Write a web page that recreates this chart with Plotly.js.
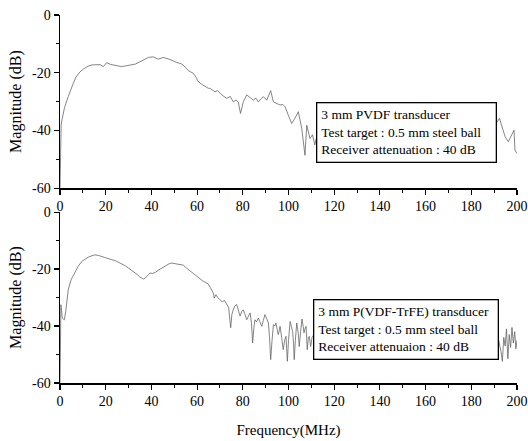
<!DOCTYPE html>
<html>
<head>
<meta charset="utf-8">
<script src="https://cdn.plot.ly/plotly-3.0.1.min.js"></script>
<style>html,body{margin:0;padding:0;background:#fff;}#chart{width:528px;height:441px;}</style>
</head>
<body>
<div id="chart"></div>
<script>
// ---- Data ----
var pvdfFreq = [0,0.5,1,2,3.6,5,5.8,7,8.75,10.5,12.4,14,16,17.5,19,20.4,22,23.3,25,27,29,31.4,33,35,37,38.7,40.8,43,45.2,46.5,48.1,50.3,52,53.3,55,56.2,58.3,59.5,60.5,62,64.9,65.6,67.8,69,70.8,72,73,74.5,75.8,77,78,79,80.2,81.7,83,84.6,85.7,86.8,88,89,90.5,92.2,93.4,95,96.3,97.5,98.5,99.9,101.4,102.8,104.3,105.8,107.2,108,109.4,110.5,111.5,113,116,119,122,125,128,131,134,137,140,143,146,149,152,155,158,161,164,167,170,173,176,179,182,185,188,190.5,192.3,193.3,194.8,196.2,197.7,198.7,199.1,200];
var pvdfMag = [-60,-38,-35.8,-32,-28.3,-25,-23.7,-21.5,-19.7,-18.6,-17.7,-17.3,-17.1,-17.2,-17.9,-16.5,-17.1,-17.3,-17.4,-17.9,-17.6,-17.3,-17.0,-16.2,-15.4,-14.7,-14.5,-15.3,-14.7,-15,-15.4,-16.2,-16.7,-17,-18.2,-19.3,-20.2,-21.5,-23.1,-24,-25.4,-25.4,-26.6,-26.2,-27.7,-28.4,-28.9,-28.2,-30.1,-29.5,-30.1,-34.1,-30.1,-27.7,-28.6,-29.5,-28.8,-30.1,-29,-28.3,-29.5,-26.2,-30.1,-30.6,-31.2,-31,-31.8,-34.7,-37.6,-35.8,-33.5,-39.3,-48.6,-38.2,-42.8,-41.5,-45,-40,-43,-41,-44,-42,-45,-43,-46,-44,-42,-45,-43,-46,-44,-42,-45,-43,-46,-44,-41,-44,-42,-45,-43,-40,-42,-38,-35.8,-38.2,-42.2,-43.9,-41.6,-39.9,-46.8,-48];

var trfeFreq = [0,0.2,0.4,1,1.9,2.5,2.9,3.6,4.8,6.6,8,9.5,11,12.4,14,15.3,16.8,18.2,19.6,21.1,22.6,24.1,25.5,27,28.5,29.9,31.3,32.8,34,35,36.5,37.2,37.9,38.6,39.4,40.5,41.6,43,44.5,45.6,46.7,47.8,48.9,50,51,52.5,53.9,55,56.2,57.7,59.1,60.5,62,62.7,63.5,64.9,65.8,66.7,67.1,67.5,68.2,69,70,71,72,73,73.8,74.7,75.2,75.8,76.5,77.3,78,78.8,79.5,80.2,81,81.7,82.5,83.2,83.8,84.3,84.8,85.3,86,86.8,87.5,88.3,89,89.7,90.5,91.2,91.7,92.2,92.8,93.4,94,94.5,95,95.5,96,96.3,97,97.7,98.3,98.9,99.2,99.5,100,100.7,101.2,101.8,102.2,102.5,103,103.6,104.2,104.7,105.3,105.9,106.4,106.8,107.2,107.7,108.2,108.7,109.1,109.7,110.3,112,114,116,118,120,122,124,126,128,130,132,134,136,138,140,142,144,146,148,150,152,154,156,158,160,162,164,166,168,170,172,174,176,178,180,182,184,186,188,190,192,193,193.6,194.2,194.8,195.4,196,196.6,197.2,197.8,198.4,199,199.5,200];
var trfeMag = [-60,-45,-32.5,-37.2,-37.8,-34.9,-31.4,-27.3,-23.8,-20.8,-19,-17.3,-16.4,-15.8,-15.3,-15,-15.2,-15.6,-16,-16.5,-16.7,-17,-17.5,-18.1,-18.8,-19.6,-20.4,-21.2,-22,-22.8,-23.5,-23.2,-22.6,-22,-21.4,-21.5,-21.2,-20.4,-19.6,-19,-18.5,-18.1,-17.9,-18,-18.1,-18.4,-18.6,-19.4,-20.2,-21,-22,-22.8,-23.8,-24.3,-24.6,-25.2,-26.5,-27.9,-28.4,-30.2,-29,-30,-30.6,-31.5,-31,-32.4,-33.5,-40.6,-36,-34.3,-33,-32.4,-34,-36.5,-35,-34.3,-36,-37.8,-36.5,-35.4,-39,-45.9,-41,-37.8,-38.5,-37.2,-38.5,-40.1,-38,-36,-37.5,-38.9,-44,-51.8,-45,-39.5,-40,-38.9,-41,-43,-41.5,-40.1,-44,-48.3,-45,-43.6,-48,-52.4,-45,-38.4,-40,-41.9,-46,-51.8,-45,-38.9,-42,-47.2,-42,-37.5,-40,-42.4,-41,-40.1,-48.3,-44,-43.6,-47.2,-44,-42,-48,-44,-50,-43,-47,-51,-44,-49,-45,-51,-43,-48,-46,-50,-44,-49,-47,-51,-45,-48,-44,-50,-46,-49,-43,-48,-51,-45,-49,-44,-48,-50,-45,-47,-51,-44,-49,-46,-50,-45,-49,-52.4,-44,-47,-41,-51.5,-43,-47.5,-40.5,-46,-42,-48,-45];

var xTickVals = [0,20,40,60,80,100,120,140,160,180,200];
var xTickText = ['0','20','40','60','80','100','120','140','160','180','200'];
var yTickVals = [0,-20,-40,-60];
var yTickText = ['0','-20','-40','-60'];

var legendTop = ['3 mm PVDF transducer','Test target : 0.5 mm steel ball','Receiver attenuation : 40 dB'];
var legendBottom = ['3 mm P(VDF-TrFE) transducer','Test target : 0.5 mm steel ball','Receiver attenuaion : 40 dB'];

// ---- Chart ----
var FONT = 'Liberation Serif, Times New Roman, serif';
var lineStyle = {color:'#666', width:0.8};

var traces = [
  {x:pvdfFreq, y:pvdfMag, xaxis:'x', yaxis:'y', mode:'lines', line:lineStyle, showlegend:false, hoverinfo:'skip'},
  {x:trfeFreq, y:trfeMag, xaxis:'x2', yaxis:'y2', mode:'lines', line:lineStyle, showlegend:false, hoverinfo:'skip'}
];

function xAxis(anchor, withTitle) {
  var a = {
    anchor: anchor, range:[0,200], showgrid:false, zeroline:false,
    showline:true, linecolor:'#000', linewidth:1.5,
    ticks:'outside', ticklen:5, tickwidth:1.2, tickcolor:'#000',
    tickvals:xTickVals, ticktext:xTickText,
    tickfont:{family:FONT, size:14, color:'#000'},
    minor:{dtick:10, ticks:'outside', ticklen:3, tickwidth:1, tickcolor:'#000', showgrid:false}
  };
  if (withTitle) a.title = {text:'Frequency(MHz)', font:{family:FONT, size:15, color:'#000'}, standoff:16};
  return a;
}
function yAxis(anchor, domain) {
  return {
    anchor: anchor, domain: domain, range:[-60,0], showgrid:false, zeroline:false,
    showline:true, linecolor:'#000', linewidth:1.5,
    ticks:'outside', ticklen:5, tickwidth:1.2, tickcolor:'#000',
    tickvals:yTickVals, ticktext:yTickText,
    tickfont:{family:FONT, size:14, color:'#000'},
    minor:{dtick:10, ticks:'outside', ticklen:3, tickwidth:1, tickcolor:'#000', showgrid:false},
    title:{text:'Magnitude (dB)', font:{family:FONT, size:16, color:'#000'}, standoff:6}
  };
}

function boxAnn(xr, yr, x, y, lines, w) {
  return {
    xref:xr, yref:yr, x:x, y:y, xanchor:'left', yanchor:'top',
    text: lines.join('<br>'), showarrow:false, align:'left',
    font:{family:FONT, size:13.5, color:'#000'},
    bgcolor:'#fff', bordercolor:'#000', borderwidth:1.3, borderpad:4,
    width:w
  };
}

var layout = {
  width:528, height:441,
  margin:{l:60, r:11, t:15, b:58},
  paper_bgcolor:'#fff', plot_bgcolor:'#fff',
  font:{family:FONT, color:'#000'},
  xaxis: xAxis('y', false),
  yaxis: yAxis('x', [0.5295, 1]),
  xaxis2: xAxis('y2', true),
  yaxis2: yAxis('x2', [0, 0.4643]),
  annotations:[
    boxAnn('x','y', 112, -30.2, legendTop, 170),
    boxAnn('x2','y2', 110.6, -30.5, legendBottom, 175)
  ],
  showlegend:false
};

Plotly.newPlot('chart', traces, layout, {staticPlot:true, displayModeBar:false});
</script>
</body>
</html>
